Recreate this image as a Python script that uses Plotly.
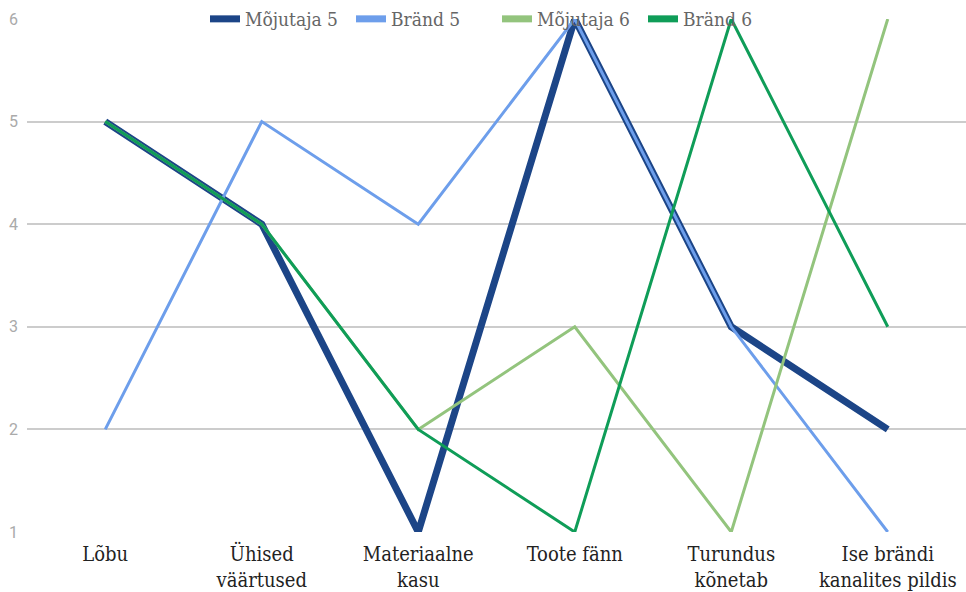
import plotly.graph_objects as go

categories = ["Lõbu", "Ühised<br>väärtused", "Materiaalne<br>kasu", "Toote fänn", "Turundus<br>kõnetab", "Ise brändi<br>kanalites pildis"]
mojutaja5 = [5, 4, 1, 6, 3, 2]
brand5 = [2, 5, 4, 6, 3, 1]
mojutaja6 = [5, 4, 2, 3, 1, 6]
brand6 = [5, 4, 2, 1, 6, 3]
y_ticks = [1, 2, 3, 4, 5, 6]

series = [
    ("Mõjutaja 5", mojutaja5, "#1c4587", 7),
    ("Bränd 5", brand5, "#6d9eeb", 3),
    ("Mõjutaja 6", mojutaja6, "#93c47d", 3),
    ("Bränd 6", brand6, "#0f9d58", 3),
]

serif = "DejaVu Serif Condensed, Liberation Serif, serif"

fig = go.Figure()
for name, vals, color, w in series:
    fig.add_trace(go.Scatter(x=categories, y=vals, name=name, mode="lines",
                             line=dict(color=color, width=w), showlegend=False,
                             legendgroup=name))
# legend entries with uniform thick swatches
for name, vals, color, w in series:
    fig.add_trace(go.Scatter(x=[categories[0]], y=[None], name=name, mode="lines",
                             line=dict(color=color, width=7), legendgroup=name,
                             hoverinfo="skip"))

fig.update_layout(
    width=966, height=592,
    margin=dict(l=27, r=0, t=18, b=60),
    plot_bgcolor="white", paper_bgcolor="white",
    showlegend=True,
    legend=dict(orientation="h", x=(205 - 27) / 939, xanchor="left", y=1.0, yanchor="middle",
                bgcolor="rgba(0,0,0,0)",
                font=dict(family=serif, size=19, color="#666666"),
                itemwidth=30, entrywidth=101, entrywidthmode="pixels"),
    xaxis=dict(range=[-0.5, 5.5], showgrid=False, showline=False, zeroline=False, ticks="",
               ticklabelstandoff=8,
               tickfont=dict(family=serif, size=20, color="#222222")),
    yaxis=dict(range=[1, 6], tickvals=y_ticks, showgrid=True, gridcolor="#cccccc", gridwidth=1.5,
               zeroline=False, showline=False, ticks="", ticklabelstandoff=8,
               tickfont=dict(family="Roboto, sans-serif", size=16, color="#aaaaaa")),
)
fig.write_html("out.html")
